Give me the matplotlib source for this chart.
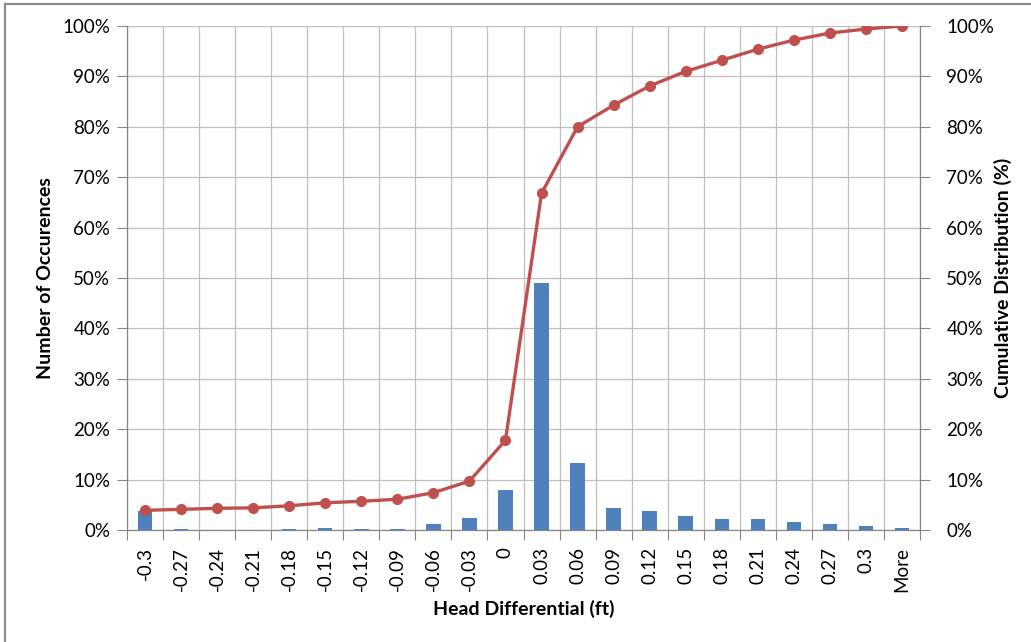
#!/usr/bin/env python3
"""Histogram of head differential with cumulative distribution (Excel-style)."""
import matplotlib
matplotlib.use('Agg')
import matplotlib.pyplot as plt
from matplotlib.lines import Line2D
from matplotlib.ticker import PercentFormatter, FixedLocator
import numpy as np

# data (fractions)
bins = ['-0.3', '-0.27', '-0.24', '-0.21', '-0.18', '-0.15', '-0.12', '-0.09',
        '-0.06', '-0.03', '0', '0.03', '0.06', '0.09', '0.12', '0.15', '0.18',
        '0.21', '0.24', '0.27', '0.3', 'More']
occurrences = [0.037, 0.002, 0.0, 0.0, 0.002, 0.004, 0.002, 0.002,
               0.012, 0.023, 0.079, 0.49, 0.132, 0.043, 0.038, 0.027, 0.022,
               0.021, 0.016, 0.012, 0.007, 0.004]
cumulative = [0.039, 0.041, 0.043, 0.044, 0.048, 0.054, 0.057, 0.061,
              0.074, 0.097, 0.178, 0.668, 0.800, 0.843, 0.881, 0.910, 0.932,
              0.954, 0.972, 0.986, 0.994, 1.0]

BAR_COLOR = '#4F81BD'
LINE_COLOR = '#C0504D'
GRID_COLOR = '#BFBFBF'
AXIS_COLOR = '#868686'

plt.rcParams['font.family'] = ['Lato', 'DejaVu Sans']
plt.rcParams['font.size'] = 13.5

fig = plt.figure(figsize=(10.31, 6.42), dpi=100)
ax = fig.add_axes([127 / 1031, 1 - 530 / 642, (920 - 127) / 1031, (530 - 26) / 642])

x = np.arange(len(bins))
ax.bar(x, occurrences, width=0.4, color=BAR_COLOR, zorder=3)

ax.set_xlim(-0.5, len(bins) - 0.5)
ax.set_ylim(0, 1)
ax.set_xticks(x)
ax.set_xticklabels(bins, rotation=90)
ax.xaxis.set_minor_locator(FixedLocator(np.arange(len(bins) + 1) - 0.5))
ax.tick_params(axis='x', which='major', length=0, pad=12)
ax.tick_params(axis='x', which='minor', length=7, color=AXIS_COLOR, width=0.8)
ax.set_yticks(np.arange(0, 1.01, 0.1))
ax.yaxis.set_major_formatter(PercentFormatter(1.0, decimals=0))
ax.tick_params(axis='y', length=7, color=AXIS_COLOR, width=0.8, pad=5)

ax.grid(True, which='minor', axis='x', color=GRID_COLOR, linewidth=0.9, zorder=0)
ax.grid(True, which='major', axis='y', color=GRID_COLOR, linewidth=0.9, zorder=0)
ax.set_axisbelow(True)

for side in ['top', 'right']:
    ax.spines[side].set_visible(False)
for side in ['left', 'bottom']:
    ax.spines[side].set_color(AXIS_COLOR)
    ax.spines[side].set_linewidth(0.9)

ax.set_xlabel('Head Differential (ft)', fontweight='bold', fontsize=14, labelpad=6)
ax.set_ylabel('Number of Occurences', fontweight='bold', fontsize=14, labelpad=6)

ax2 = ax.twinx()
ax2.plot(x, cumulative, color=LINE_COLOR, linewidth=2.4, marker='o',
         markersize=7, zorder=4)
ax2.set_ylim(0, 1)
ax2.set_yticks(np.arange(0, 1.01, 0.1))
ax2.yaxis.set_major_formatter(PercentFormatter(1.0, decimals=0))
ax2.tick_params(axis='y', length=7, color=AXIS_COLOR, width=0.8, pad=12)
for side in ['top', 'left', 'bottom']:
    ax2.spines[side].set_visible(False)
ax2.spines['right'].set_color(AXIS_COLOR)
ax2.spines['right'].set_linewidth(0.9)
ax2.set_ylabel('Cumulative Distribution (%)', fontweight='bold', fontsize=14, labelpad=0)

# chart area border (left and top edges visible in the reference)
bx, by = 5 / 1031, 1 - 4 / 642
fig.add_artist(Line2D([bx, bx], [0, by], color='#8C8C8C', linewidth=1.6,
                      transform=fig.transFigure))
fig.add_artist(Line2D([bx, 1], [by, by], color='#8C8C8C', linewidth=1.6,
                      transform=fig.transFigure))

fig.savefig('out.png', dpi=100)
